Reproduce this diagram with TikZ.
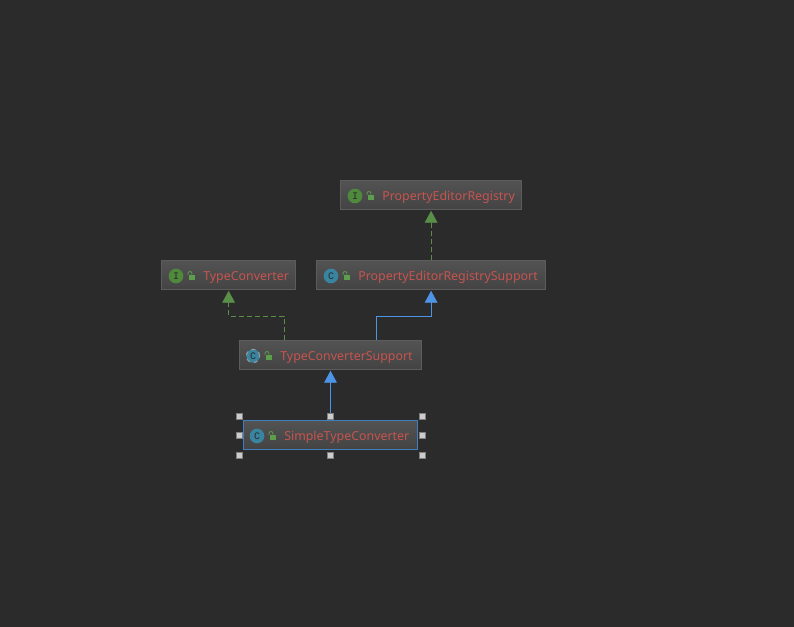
\documentclass[tikz,border=0pt]{standalone}
\usepackage{xcolor}
\usepackage{fontspec}
\setmainfont{Noto Sans}
\newfontfamily\iconfont{Liberation Mono}
\usetikzlibrary{arrows.meta,positioning,shapes.geometric,calc}
\definecolor{bgdark}{HTML}{2B2B2B}
\definecolor{boxtop}{HTML}{535353}
\definecolor{boxbot}{HTML}{434343}
\definecolor{boxline}{HTML}{5C5C5C}
\definecolor{nametext}{HTML}{C75450}
\definecolor{implgreen}{HTML}{5A8F4A}
\definecolor{extblue}{HTML}{4E94E6}
\definecolor{selblue}{HTML}{3F7FBF}
\definecolor{icongreen}{HTML}{4F8A3C}
\definecolor{iconblue}{HTML}{39849F}
\definecolor{lockgreen}{HTML}{5C9E4C}
\tikzset{
  classbox/.style={draw=boxline, line width=0.6pt, top color=boxtop, bottom color=boxbot, minimum height=22pt, inner sep=0},
  selbox/.style={classbox, draw=selblue, line width=0.8pt},
  classname/.style={anchor=west, inner sep=0, text=nametext, text height=7pt, text depth=2pt, font=\fontsize{9.3}{11}\selectfont},
  iconbase/.style={circle, minimum size=11pt, inner sep=0, text=bgdark, font=\fontsize{7.5}{8}\iconfont},
  ifaceicon/.style={iconbase, fill=icongreen},
  classicon/.style={iconbase, fill=iconblue},
  lockbody/.style={fill=lockgreen, minimum width=5pt, minimum height=4pt, inner sep=0},
  implline/.style={implgreen, line width=0.7pt, shorten >=0.5pt, dash pattern=on 3.75pt off 2.25pt, -{Triangle[length=9pt,width=9.5pt,fill=implgreen]}},
  extline/.style={extblue, line width=0.7pt, shorten >=0.5pt, -{Triangle[length=9pt,width=9.5pt,fill=extblue]}},
  handle/.style={fill=black!20, draw=black!50, line width=0.3pt, minimum size=4.4pt, inner sep=0},
}
% lock mark: #1 name, #2 x, #3 y
\newcommand{\lockmark}[3]{
  \node[lockbody] (#1) at (#2+1,#3+2.5) {};
  \draw[lockgreen, line width=0.6pt] (#2-3,#3) -- (#2-3,#3-1.5) arc[start angle=180, end angle=0, radius=1.5pt] -- (#2+0.7,#3-0.5);
}
\begin{document}
\begin{tikzpicture}[x=0.75pt, y=-0.75pt]
    \useasboundingbox (0,0) rectangle (794,627);
    \fill[bgdark] (0,0) rectangle (794,627);

    % boxes
    \node[classbox, minimum width=135.75pt] (registry) at (431.1,195) {};
    \node[classbox, minimum width=171.75pt] (registrySupport) at (431.1,275) {};
    \node[classbox, minimum width=100.5pt] (converter) at (228.6,275) {};
    \node[classbox, minimum width=136.5pt] (converterSupport) at (330.5,355) {};
    \node[selbox, minimum width=130.5pt] (simple) at (330.5,435) {};

    % icons and names
    \node[ifaceicon] (registryIcon) at (355,196) {I};
    \lockmark{registryLock}{370}{195}
    \node[classname] (registryName) at (382,197) {PropertyEditorRegistry};

    \node[classicon] (registrySupportIcon) at (331,276) {C};
    \lockmark{registrySupportLock}{346}{275}
    \node[classname] (registrySupportName) at (358,277) {PropertyEditorRegistrySupport};

    \node[ifaceicon] (converterIcon) at (176,276) {I};
    \lockmark{converterLock}{191}{275}
    \node[classname] (converterName) at (203,277) {TypeConverter};

    \node[classicon, draw=black!40, dashed, line width=0.8pt, minimum size=10pt] (converterSupportIcon) at (253,356) {C};
    \lockmark{converterSupportLock}{268}{355}
    \node[classname] (converterSupportName) at (280,357) {TypeConverterSupport};

    \node[classicon] (simpleIcon) at (257,436) {C};
    \lockmark{simpleLock}{272}{435}
    \node[classname] (simpleName) at (284,437) {SimpleTypeConverter};

    % connectors
    \coordinate (implOut) at (284,340);
    \coordinate (extOut) at (376.5,340);
    \draw[implline] (registrySupport.north) -- (registry.south);
    \draw[implline] (implOut) -- (284,316) -| (converter.south);
    \draw[extline] (extOut) -- (376.5,316) -| (registrySupport.south);
    \draw[extline] (simple.north) -- (converterSupport.south);

    % selection handles
    \foreach \hx/\hy in {239.5/416.5,330.5/416.5,422/416.5,239.5/435.5,422/435.5,239.5/455,330.5/455,422/455}
      \node[handle] (handle\hx\hy) at (\hx,\hy) {};
\end{tikzpicture}
\end{document}
